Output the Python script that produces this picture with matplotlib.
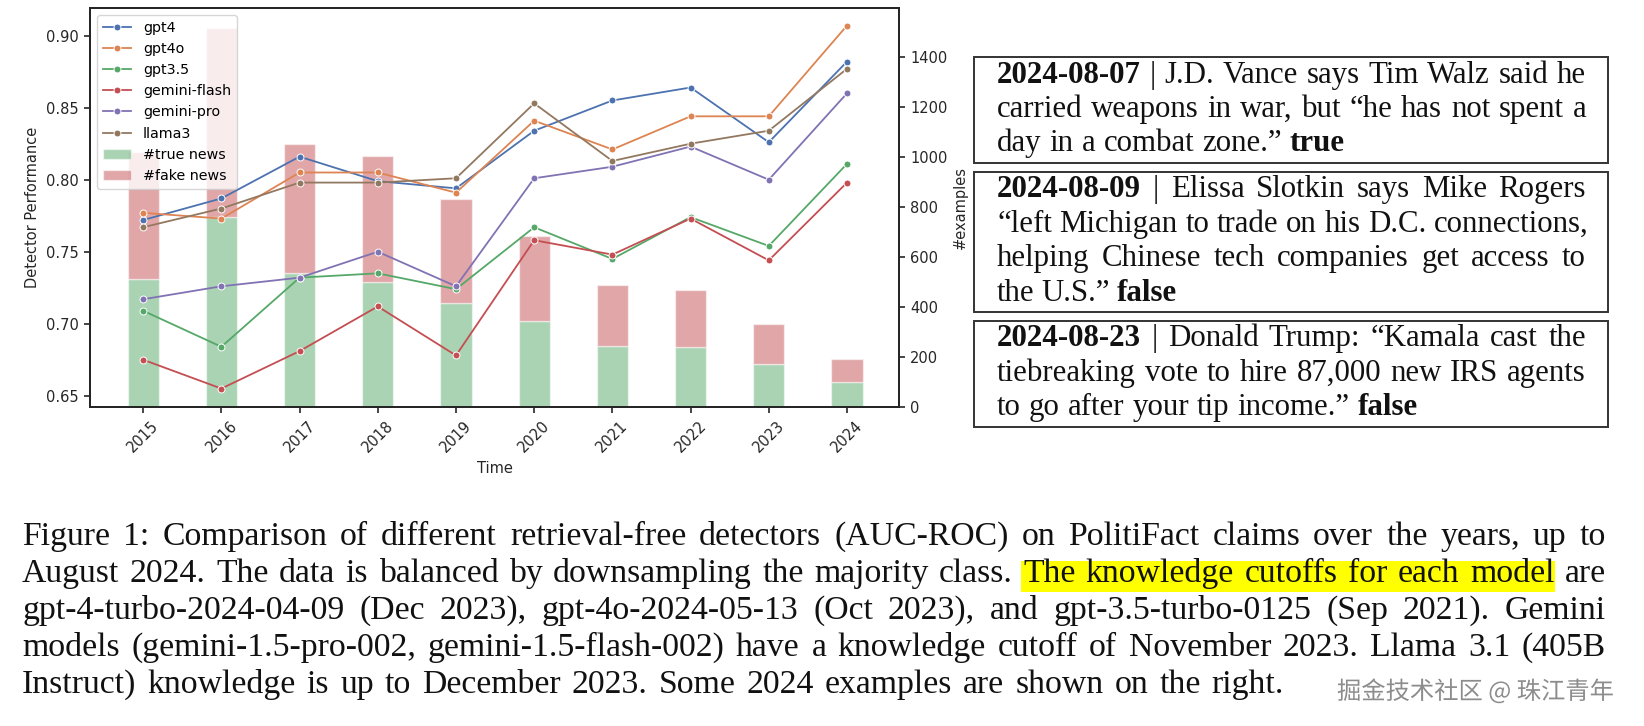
import matplotlib as mplt
mplt.use("Agg")
import matplotlib.pyplot as plt
import matplotlib.patheffects as pe
from matplotlib.patches import Rectangle
import numpy as np

W, H = 1644, 726

# ---- chart data ----
YEARS = ['2015', '2016', '2017', '2018', '2019', '2020', '2021', '2022', '2023', '2024']

MODELS = ['gpt4', 'gpt4o', 'gpt3.5', 'gemini-flash', 'gemini-pro', 'llama3']
GPT4 = [0.772, 0.787, 0.816, 0.799, 0.794, 0.834, 0.855, 0.864, 0.826, 0.882]
GPT4O = [0.777, 0.773, 0.805, 0.805, 0.791, 0.841, 0.821, 0.844, 0.844, 0.907]
GPT35 = [0.709, 0.684, 0.732, 0.735, 0.724, 0.767, 0.745, 0.774, 0.754, 0.811]
GEMINI_FLASH = [0.675, 0.655, 0.681, 0.712, 0.678, 0.758, 0.748, 0.773, 0.744, 0.798]
GEMINI_PRO = [0.717, 0.726, 0.732, 0.750, 0.726, 0.801, 0.809, 0.823, 0.800, 0.860]
LLAMA3 = [0.767, 0.780, 0.798, 0.798, 0.801, 0.853, 0.813, 0.825, 0.834, 0.877]

TRUE_NEWS = [513, 760, 534, 500, 416, 344, 245, 238, 171, 99]
FAKE_NEWS = [507, 757, 517, 503, 414, 339, 241, 229, 160, 93]

# seaborn "deep" palette
COLORS = ['#4c72b0', '#dd8452', '#55a868', '#c44e52', '#8172b3', '#937860']

# ---- text on the right and below ----
# each line is a list of (text, style) with style 'n' normal, 'b' bold, 'h' highlighted
BOXES = [
    [[('2024-08-07', 'b'), ('| J.D. Vance says Tim Walz said he', 'n')],
     [('carried weapons in war, but \u201che has not spent a', 'n')],
     [('day in a combat zone.\u201d', 'n'), ('true', 'b')]],
    [[('2024-08-09', 'b'), ('| Elissa Slotkin says Mike Rogers', 'n')],
     [('\u201cleft Michigan to trade on his D.C. connections,', 'n')],
     [('helping Chinese tech companies get access to', 'n')],
     [('the U.S.\u201d', 'n'), ('false', 'b')]],
    [[('2024-08-23', 'b'), ('| Donald Trump: \u201cKamala cast the', 'n')],
     [('tiebreaking vote to hire 87,000 new IRS agents', 'n')],
     [('to go after your tip income.\u201d', 'n'), ('false', 'b')]],
]

CAPTION = [
    [('Figure 1: Comparison of different retrieval-free detectors (AUC-ROC) on PolitiFact claims over the years, up to', 'n')],
    [('August 2024. The data is balanced by downsampling the majority class.', 'n'),
     ('The knowledge cutoffs for each model', 'h'), ('are', 'n')],
    [('gpt-4-turbo-2024-04-09 (Dec 2023), gpt-4o-2024-05-13 (Oct 2023), and gpt-3.5-turbo-0125 (Sep 2021). Gemini', 'n')],
    [('models (gemini-1.5-pro-002, gemini-1.5-flash-002) have a knowledge cutoff of November 2023. Llama 3.1 (405B', 'n')],
    [('Instruct) knowledge is up to December 2023. Some 2024 examples are shown on the right.', 'n')],
]

WATERMARK = '掘金技术社区 @ 珠江青年'

SERIF = 'Liberation Serif'
INK = '#262626'

plt.rcParams.update({'font.family': 'DejaVu Sans', 'font.size': 10.5})

fig = plt.figure(figsize=(W / 100, H / 100), dpi=100)
renderer = fig.canvas.get_renderer()


def fx(x):
    return x / W


def fy(y):
    return 1 - y / H


# ---------------- chart ----------------
ax = fig.add_axes([fx(90), fy(407), (899 - 90) / W, (407 - 8) / H])
ax2 = ax.twinx()
x = np.arange(len(YEARS))

ax2.bar(x, TRUE_NEWS, width=0.4, color='#55a868', alpha=0.5, edgecolor='white',
        linewidth=1, label='#true news')
ax2.bar(x, FAKE_NEWS, width=0.4, bottom=TRUE_NEWS, color='#c44e52', alpha=0.5,
        edgecolor='white', linewidth=1, label='#fake news')

for name, vals, c in zip(MODELS, [GPT4, GPT4O, GPT35, GEMINI_FLASH, GEMINI_PRO, LLAMA3], COLORS):
    ax.plot(x, vals, color=c, lw=1.3, marker='o', ms=5, mec='white', mew=0.7, label=name)

ax.set_zorder(ax2.get_zorder() + 1)
ax.patch.set_visible(False)

ax.set_xlim(-0.68, 9.665)
ax.set_ylim(0.6422, 0.9192)
ax2.set_ylim(0, 1595)
ax.set_yticks([0.65, 0.70, 0.75, 0.80, 0.85, 0.90])
ax2.set_yticks([0, 200, 400, 600, 800, 1000, 1200, 1400])
ax.set_xticks(x)
ax.set_xticklabels(YEARS, rotation=45)

ax.set_xlabel('Time', color=INK)
ax.set_ylabel('Detector Performance', color=INK)
ax2.set_ylabel('#examples', color=INK)

for a in (ax, ax2):
    for s in a.spines.values():
        s.set_linewidth(1.4)
        s.set_color(INK)
    a.tick_params(length=4.5, width=1.2, color=INK, labelcolor=INK, labelsize=10.5)

h1, l1 = ax.get_legend_handles_labels()
h2, l2 = ax2.get_legend_handles_labels()
ax.legend(h1 + h2, l1 + l2, loc='upper left', fontsize=10.3, framealpha=0.8,
          edgecolor='0.8', borderaxespad=0.5)


# ---------------- justified text blocks ----------------
def measure(s, size, bold):
    t = fig.text(0, 0, s, fontsize=size, family=SERIF, fontweight='bold' if bold else 'normal')
    w = t.get_window_extent(renderer).width
    t.remove()
    return w


def natural_width(segs, size):
    words = [(w, st) for text, st in segs for w in text.split()]
    sp = measure('a a', size, False) - measure('aa', size, False)
    return sum(measure(w, size, st == 'b') for w, st in words) + sp * (len(words) - 1)


def draw_paragraph(lines, x0, rights, baselines, size):
    # every line is spread between x0 and its own right edge
    for segs, x1, yb in zip(lines, rights, baselines):
        words = [(w, st) for text, st in segs for w in text.split()]
        widths = [measure(w, size, st == 'b') for w, st in words]
        gap = (x1 - x0 - sum(widths)) / (len(words) - 1)
        xc = x0
        hl = []
        for (w, st), wd in zip(words, widths):
            fig.text(fx(xc), fy(yb), w, fontsize=size, family=SERIF, color='#111111',
                     fontweight='bold' if st == 'b' else 'normal', va='baseline', ha='left')
            if st == 'h':
                hl.append((xc, xc + wd))
            xc += wd + gap
        if hl:
            left, right = hl[0][0] - 2, hl[-1][1] + 1
            fig.add_artist(Rectangle((fx(left), fy(yb + 10)), (right - left) / W, 31 / H,
                                     transform=fig.transFigure, facecolor='#ffff00',
                                     edgecolor='none', zorder=0))


# boxes on the right
box_tops = [57, 172, 321]
box_bottoms = [163, 312, 427]
box_baselines = [[83, 117, 151], [197, 232, 266, 301], [346, 381, 415]]
box_rights = [[1586, 1586, 1345], [1586, 1589, 1586, 1177], [1586, 1586, 1418]]

base = 20
w_last = sum(natural_width(b[-1], base) for b in BOXES)
box_size = base * (348 + 180 + 421) / w_last

for lines, top, bot, bls, rts in zip(BOXES, box_tops, box_bottoms, box_baselines, box_rights):
    fig.add_artist(Rectangle((fx(974), fy(bot)), (1608 - 974) / W, (bot - top) / H,
                             transform=fig.transFigure, facecolor='none',
                             edgecolor='#333333', linewidth=1.4))
    draw_paragraph(lines, 997, rts, bls, box_size)

# caption
cap_size = 0.97 * base * (1284 - 22) / natural_width(CAPTION[-1], base)
draw_paragraph(CAPTION, 22, [1606, 1606, 1606, 1606, 1284],
               [545, 582, 619, 656, 693], cap_size)

fig.text(fx(1337), fy(692), WATERMARK, fontsize=17.5, color='#8c8c8c',
         family=['Noto Sans CJK SC', 'DejaVu Sans'], va='center', ha='left',
         path_effects=[pe.withStroke(linewidth=1.5, foreground='white')])

fig.savefig('out.png', dpi=100)
